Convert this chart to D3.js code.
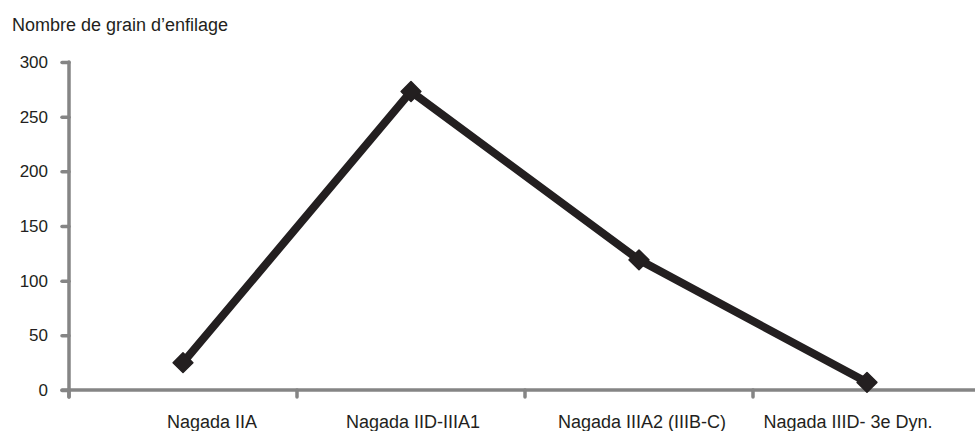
<!DOCTYPE html>
<html>
<head>
<meta charset="utf-8">
<script src="https://cdn.jsdelivr.net/npm/d3@7"></script>
<style>
  html, body { margin: 0; padding: 0; background: #fff; }
  svg { display: block; }
  text { font-family: "Liberation Sans", Arial, sans-serif; fill: #231f20; }
</style>
</head>
<body>
<svg id="chart" width="975" height="431"></svg>
<script>
const categories = ["Nagada IIA", "Nagada IID-IIIA1", "Nagada IIIA2 (IIIB-C)", "Nagada IIID- 3e Dyn."];
const values = [25, 273, 119, 7];
const yTicks = [0, 50, 100, 150, 200, 250, 300];
const yTitle = "Nombre de grain d\u2019enfilage";
// layout-only: horizontal nudges of category labels as in the original
const labelOffsets = [29, 2, 3, -19];

const svg = d3.select("#chart");
const axisColor = "#858585";
const x = d3.scaleBand().domain(categories).range([69, 981]);
const y = d3.scaleLinear().domain([0, 300]).range([390, 62]);

// y axis
const yAxis = svg.append("g").attr("transform", "translate(69,0)")
  .call(d3.axisLeft(y).tickValues(yTicks).tickSize(7).tickPadding(14).tickFormat(d3.format("d")));
yAxis.select(".domain").remove();
yAxis.selectAll(".tick line").attr("stroke", axisColor).attr("stroke-width", 3.5).attr("stroke-linecap", "round");
yAxis.selectAll(".tick text").attr("font-size", 17).attr("fill", "#231f20")
  .style("font-family", "'Liberation Sans', Arial, sans-serif");
svg.append("line").attr("x1", 69).attr("x2", 69).attr("y1", y(300)).attr("y2", y(0) + 7)
  .attr("stroke", axisColor).attr("stroke-width", 3.5).attr("stroke-linecap", "round");

// x axis
svg.append("line").attr("x1", 62).attr("x2", 980).attr("y1", y(0)).attr("y2", y(0))
  .attr("stroke", axisColor).attr("stroke-width", 3.5).attr("stroke-linecap", "round");
const bounds = categories.map(c => x(c)).concat([x(categories[categories.length - 1]) + x.bandwidth()]);
svg.selectAll(".xtick").data(bounds).enter().append("line")
  .attr("x1", d => d).attr("x2", d => d).attr("y1", y(0)).attr("y2", y(0) + 7)
  .attr("stroke", axisColor).attr("stroke-width", 3.5).attr("stroke-linecap", "round");
svg.selectAll(".xlabel").data(categories).enter().append("text")
  .attr("x", (d, i) => x(d) + x.bandwidth() / 2 + labelOffsets[i])
  .attr("y", 428).attr("text-anchor", "middle").attr("font-size", 18)
  .text(d => d);

// title
svg.append("text").attr("x", 12).attr("y", 31).attr("font-size", 18).text(yTitle);

// line
const cx = d => x(d) + x.bandwidth() / 2;
const line = d3.line().x((d, i) => cx(categories[i])).y(d => y(d));
svg.append("path").datum(values).attr("d", line)
  .attr("fill", "none").attr("stroke", "#231f20").attr("stroke-width", 8).attr("stroke-linejoin", "miter");

// diamond markers
svg.selectAll(".marker").data(values).enter().append("rect")
  .attr("x", -7).attr("y", -7).attr("width", 14).attr("height", 14)
  .attr("transform", (d, i) => `translate(${cx(categories[i])},${y(d)}) rotate(45)`)
  .attr("fill", "#231f20").attr("stroke", "#231f20").attr("stroke-width", 1.5).attr("stroke-linejoin", "round");
</script>
</body>
</html>
